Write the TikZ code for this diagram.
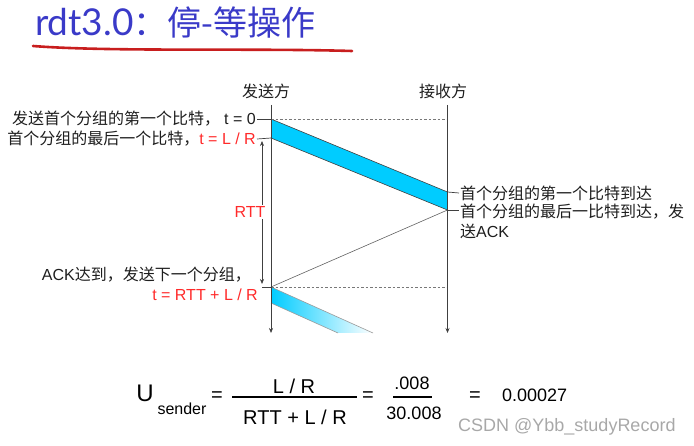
\documentclass[tikz,border=0pt]{standalone}
\usepackage{fontspec}
\setmainfont{Liberation Sans}
\newfontfamily\cjk{Noto Sans CJK SC}
\newfontfamily\ttlatin{Lato}
\usetikzlibrary{positioning,arrows.meta,calc}
\definecolor{ink}     {HTML}{1E1E1E}
\definecolor{pkt}     {HTML}{00CCFF}
\definecolor{ttlblue} {HTML}{3A3AC8}
\definecolor{penred}  {HTML}{C81E1E}
\definecolor{hot}     {HTML}{FF2A2A}
\definecolor{wmgray}  {HTML}{A8A8A8}
\tikzset{
  >={Stealth[length=5pt,width=4pt]},
  % --- nodes
  lbl/.style  = {font=\fontsize{16}{20}\selectfont, text=ink, inner sep=1pt},
  lblr/.style = {lbl, anchor=east},
  lbll/.style = {lbl, anchor=west, align=left},
  head/.style = {lbl, anchor=center},
  ttl/.style  = {font=\fontsize{34}{38}\selectfont, text=ttlblue, inner sep=0pt},
  eqn/.style  = {font=\fontsize{20}{24}\selectfont, text=black, inner sep=0pt},
  num/.style  = {font=\fontsize{18}{22}\selectfont, text=black, inner sep=0pt},
  wm/.style   = {font=\fontsize{18}{22}\selectfont, text=wmgray, inner sep=0pt},
  % --- edges
  tl/.style    = {->, draw=ink!85, line width=0.6pt},
  tick/.style  = {draw=ink!85, line width=0.7pt},
  guide/.style = {dashed, dash pattern=on 2.5pt off 2pt, draw=ink!60, line width=0.6pt},
  edge/.style  = {draw=ink!85, line width=0.6pt},
  ack/.style   = {draw=ink!70, line width=0.6pt},
  bar/.style   = {draw=black, line width=1.1pt},
}
\begin{document}
\begin{tikzpicture}[x=1pt, y=-1pt]
  \useasboundingbox (0,0) rectangle (694,446);
  % title
  \node[ttl, anchor=west] (title) at (35,23) {{\ttlatin\fontsize{37}{40}\selectfont rdt3.0}{\cjk：停-等操作}};
  \draw[penred, line width=2.6pt, line cap=round] (33,46) .. controls (110,52) and (250,48) .. (352,51);

  % axis points
  \coordinate (stop) at (271,105);
  \coordinate (sbot) at (271,333);
  \coordinate (rtop) at (447.5,105);
  \coordinate (rbot) at (447.5,333);
  \coordinate (s0) at (271,119);
  \coordinate (s1) at (271,138);
  \coordinate (r0) at (447.5,192);
  \coordinate (r1) at (447.5,210);
  \coordinate (s2) at (271,287);
  \coordinate (s3) at (271,303);
  \coordinate (q0) at (373,333);
  \coordinate (q1) at (338,333);

  % packets
  \fill[pkt] (s0) -- (r0) -- (r1) -- (s1) -- cycle;
  \draw[edge] (s0) -- (r0);
  \draw[edge] (s1) -- (r1);
  \shade[left color=pkt, right color=white] (s2) -- (q0) -- (q1) -- (s3) -- cycle;
  \draw[ink!45, line width=0.6pt] (s2) -- (q0);
  \draw[ink!45, line width=0.6pt] (s3) -- (q1);
  \draw[ack] (r1) -- (s2);
  \draw[guide] (s0) -- (s0 -| rtop);
  \draw[guide] (s2) -- (s2 -| rtop);

  % time lines
  \node[head] (snd) at (266,91) {\cjk 发送方};
  \node[head] (rcv) at (443,91) {\cjk 接收方};
  \draw[tl] (stop) -- (sbot);
  \draw[tl] (rtop) -- (rbot);

  % sender side
  \node[lblr] (t0) at (257,119) {{\cjk 发送首个分组的第一个比特，}\hspace{4pt}t = 0};
  \node[lblr] (t1) at (257,139) {{\cjk 首个分组的最后一个比特，}\textcolor{hot}{t = L / R}};
  \node[lblr] (ackin) at (252,275) {ACK{\cjk 达到，发送下一个分组，}};
  \node[lblr, text=hot] (t2) at (259,295) {t = RTT + L / R};
  \draw[tick] (t0.east) -- (s0);
  \draw[tick] (t1.east) -- (s1);
  \draw[tick] (s2) -- ++(-9,0);
  \coordinate (rtta) at (262,141);
  \coordinate (rttb) at (262,284);
  \draw[tl, <->] (rtta) -- (rttb);
  \node[lbl, text=hot, fill=white] (rtt) at (250,212) {RTT};

  % receiver side
  \node[lbll] (a0) at (459,193) {\cjk 首个分组的第一个比特到达};
  \node[lbll, anchor=north west] (a1) at (459,203) {{\cjk 首个分组的最后一比特到达，发}\\{\cjk 送}ACK};
  \draw[tick] (r0) -- (a0.west);
  \draw[tick] (r1) -- ++(11,0);

  % utilisation
  \node[eqn, font=\fontsize{24}{28}\selectfont] (u) at (145,393) {U};
  \node[num, font=\fontsize{16}{19}\selectfont] (usub) at (182,409) {sender};
  \node[eqn] (eq1) at (217,397) {=};
  \node[eqn] (n1) at (294,386) {L / R};
  \node[eqn] (d1) at (295,417) {RTT + L / R};
  \coordinate (b1a) at (232,397);
  \coordinate (b1b) at (357,397);
  \draw[bar] (b1a) -- (b1b);
  \node[eqn] (eq2) at (368,397) {=};
  \node[num] (n2) at (412,383) {.008};
  \node[num] (d2) at (414,413) {30.008};
  \coordinate (b2a) at (393,397);
  \coordinate (b2b) at (432,397);
  \draw[bar] (b2a) -- (b2b);
  \node[eqn] (eq3) at (475,397) {=};
  \node[num, anchor=west] (res) at (502,395) {0.00027};
  \node[wm, anchor=west] (mark) at (458,427) {CSDN @Ybb\_studyRecord};
\end{tikzpicture}
\end{document}
